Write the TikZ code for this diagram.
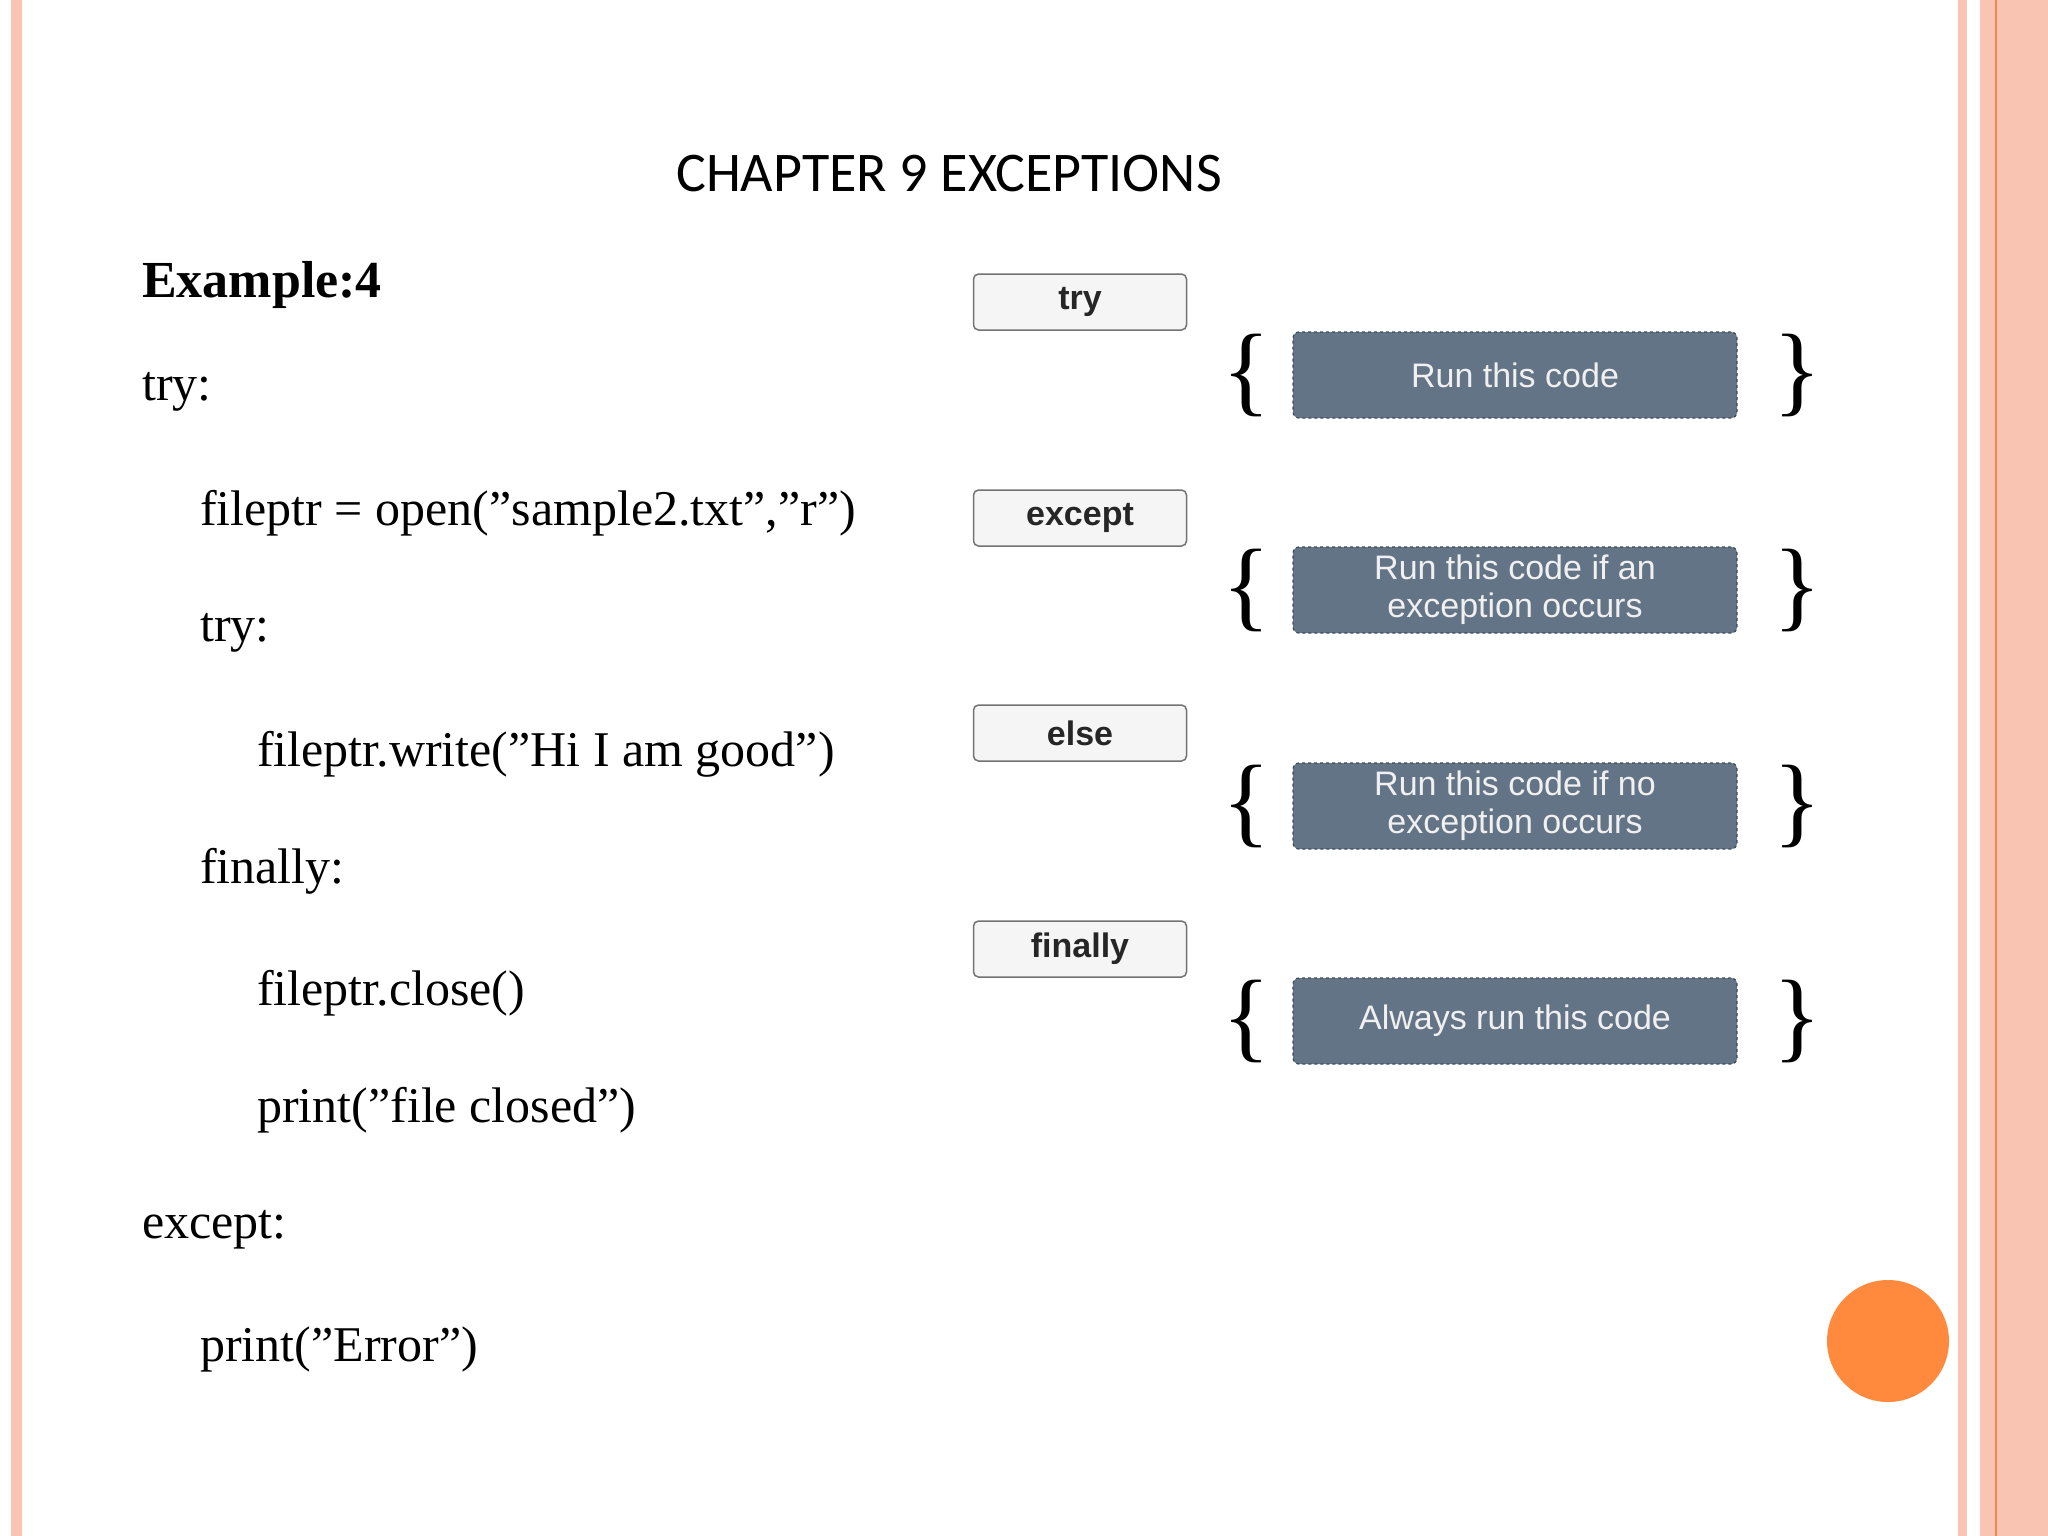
\documentclass[tikz,border=0pt]{standalone}
\usepackage{fontspec}
\setmainfont{Liberation Serif}
\newfontfamily\ttl{Carlito}
\newfontfamily\arl{Liberation Sans}
\definecolor{pinkb}{HTML}{FAC4B2}
\definecolor{orline}{HTML}{F08A4B}
\definecolor{slate}{HTML}{647487}
\definecolor{slated}{HTML}{3E4A58}
\definecolor{dot}{HTML}{FF8A3D}
\begin{document}
\begin{tikzpicture}[x=1pt,y=-1pt,
  code/.style={anchor=west,font=\fontsize{50}{60}\selectfont,inner sep=0},
  kw/.style={draw=gray!90!black,line width=1.5pt,fill=gray!8,rounded corners=5pt,minimum width=213pt,minimum height=56pt,font=\arl\bfseries\fontsize{34}{40}\selectfont,text=black!85,inner sep=0},
  act/.style={draw=slated,dashed,line width=1.2pt,fill=slate,rounded corners=6pt,minimum width=444pt,minimum height=86pt,font=\arl\fontsize{34}{38}\selectfont,text=white!94!black,align=center,inner sep=0},
  brc/.style={font=\fontsize{100}{100}\selectfont,inner sep=0}]
\useasboundingbox (0,0) rectangle (2048,1536);
\fill[white] (0,0) rectangle (2048,1536);
\fill[pinkb] (11,0) rectangle (22,1536);
\fill[pinkb] (1958,0) rectangle (1967,1536);
\fill[pinkb] (1980,0) rectangle (2048,1536);
\draw[orline,line width=2pt] (1996,0) -- (1996,1536);
\node[font=\ttl\fontsize{56}{60}\selectfont,inner sep=0] (title) at (949,174) {CHAPTER 9 EXCEPTIONS};
\node[code,font=\bfseries\fontsize{52}{60}\selectfont] (ex) at (142,285) {Example:4};
\node[code] (l1) at (142,392) {try:};
\node[code] (l2) at (200,513) {fileptr = open("sample2.txt","r")};
\node[code] (l3) at (200,633) {try:};
\node[code] (l4) at (257,754) {fileptr.write("Hi I am good")};
\node[code] (l5) at (200,871) {finally:};
\node[code] (l6) at (257,993) {fileptr.close()};
\node[code] (l7) at (257,1110) {print("file closed")};
\node[code] (l8) at (142,1230) {except:};
\node[code] (l9) at (200,1349) {print("Error")};
\node[kw] (k1) at (1080,302) {try};
\node[kw] (k2) at (1080,518) {except};
\node[kw] (k3) at (1080,733) {else};
\node[kw] (k4) at (1080,949) {finally};
\node[act] (a1) at (1515,375) {Run this code};
\node[act] (a2) at (1515,590) {Run this code if an\\exception occurs};
\node[act] (a3) at (1515,806) {Run this code if no\\exception occurs};
\node[act] (a4) at (1515,1021) {Always run this code};
\foreach \i in {1,2,3,4}{
  \node[brc,anchor=east] (lb\i) at ([xshift=-22pt]a\i.west) {\{};
  \node[brc,anchor=west] (rb\i) at ([xshift=36pt]a\i.east) {\}};
}
\fill[dot] (1888,1341) circle (61);
\end{tikzpicture}
\end{document}
